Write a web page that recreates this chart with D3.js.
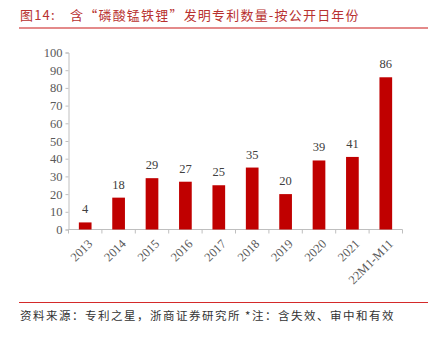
<!DOCTYPE html>
<html>
<head>
<meta charset="utf-8">
<script src="https://cdn.jsdelivr.net/npm/d3@7"></script>
<style>
  html, body { margin: 0; padding: 0; background: #fff; }
  svg { display: block; }
</style>
</head>
<body>
<script>
// Patent counts by publication year
const categories = ["2013", "2014", "2015", "2016", "2017", "2018", "2019", "2020", "2021", "22M1-M11"];
const values = [4, 18, 29, 27, 25, 35, 20, 39, 41, 86];
const yTicks = [0, 10, 20, 30, 40, 50, 60, 70, 80, 90, 100];

const titleText = "图14:\u3000含“磷酸锰铁锂”发明专利数量-按公开日年份";
const sourceText = "资料来源：专利之星，浙商证券研究所 *注：含失效、审中和有效";

const W = 436, H = 340;
const svg = d3.select("body").append("svg").attr("width", W).attr("height", H);

const serif = "'Liberation Serif', 'Times New Roman', serif";
const cjk = "'Noto Sans CJK SC', sans-serif";

// Title and rule
svg.append("text")
  .attr("x", 20).attr("y", 20)
  .attr("font-family", cjk).attr("font-size", 13)
  .attr("letter-spacing", 1.2)
  .attr("fill", "#b8312f")
  .text(titleText);
svg.append("line")
  .attr("x1", 19).attr("x2", 428).attr("y1", 28).attr("y2", 28)
  .attr("stroke", "#e48a8a").attr("stroke-width", 2);

// Scales
const x = d3.scaleBand().domain(categories).range([68.5, 402.5]).paddingInner(0.62).paddingOuter(0.31);
const y = d3.scaleLinear().domain([0, 100]).range([229.5, 52.5]);

const axisColor = "#bfbfbf";
const textColor = "#595959";

// Y axis
const yAxis = svg.append("g").attr("transform", "translate(68.5,0)")
  .call(d3.axisLeft(y).tickValues(yTicks).tickSize(3).tickPadding(3));
yAxis.select(".domain").attr("stroke", axisColor);
yAxis.selectAll(".tick line").attr("stroke", axisColor);
yAxis.selectAll(".tick text")
  .attr("font-family", serif).attr("font-size", 12.5).attr("fill", textColor);

// X axis with ticks at category boundaries
const xAxis = svg.append("g").attr("transform", "translate(0,229.5)");
xAxis.append("line")
  .attr("x1", 68.5).attr("x2", 402.5).attr("y1", 0).attr("y2", 0)
  .attr("stroke", axisColor);
const bounds = d3.range(categories.length + 1).map(i => 68.5 + i * (334 / categories.length));
xAxis.selectAll("line.tk").data(bounds).join("line").attr("class", "tk")
  .attr("x1", d => d).attr("x2", d => d).attr("y1", 0).attr("y2", 4)
  .attr("stroke", axisColor);
xAxis.selectAll("text.lbl").data(categories).join("text").attr("class", "lbl")
  .attr("transform", d => `translate(${x(d) + x.bandwidth() / 2 + 5},${12}) rotate(-45)`)
  .attr("text-anchor", "end").attr("dy", "0.35em")
  .attr("font-family", serif).attr("font-size", 12.5).attr("fill", textColor)
  .text(d => d);

// Bars
svg.selectAll("rect.bar").data(values).join("rect").attr("class", "bar")
  .attr("x", (d, i) => x(categories[i]))
  .attr("width", x.bandwidth())
  .attr("y", d => y(d))
  .attr("height", d => y(0) - y(d))
  .attr("fill", "#c00000");

// Value labels
svg.selectAll("text.val").data(values).join("text").attr("class", "val")
  .attr("x", (d, i) => x(categories[i]) + x.bandwidth() / 2)
  .attr("y", d => y(d) - 9)
  .attr("text-anchor", "middle")
  .attr("font-family", serif).attr("font-size", 12.5).attr("fill", "#404040")
  .text(d => d);

// Source rule and note
svg.append("line")
  .attr("x1", 19).attr("x2", 428).attr("y1", 302.5).attr("y2", 302.5)
  .attr("stroke", "#d42a2a").attr("stroke-width", 1);
svg.append("text")
  .attr("x", 20).attr("y", 320)
  .attr("font-family", cjk).attr("font-size", 11.5)
  .attr("letter-spacing", 1.5)
  .attr("fill", "#333")
  .text(sourceText);
</script>
</body>
</html>
